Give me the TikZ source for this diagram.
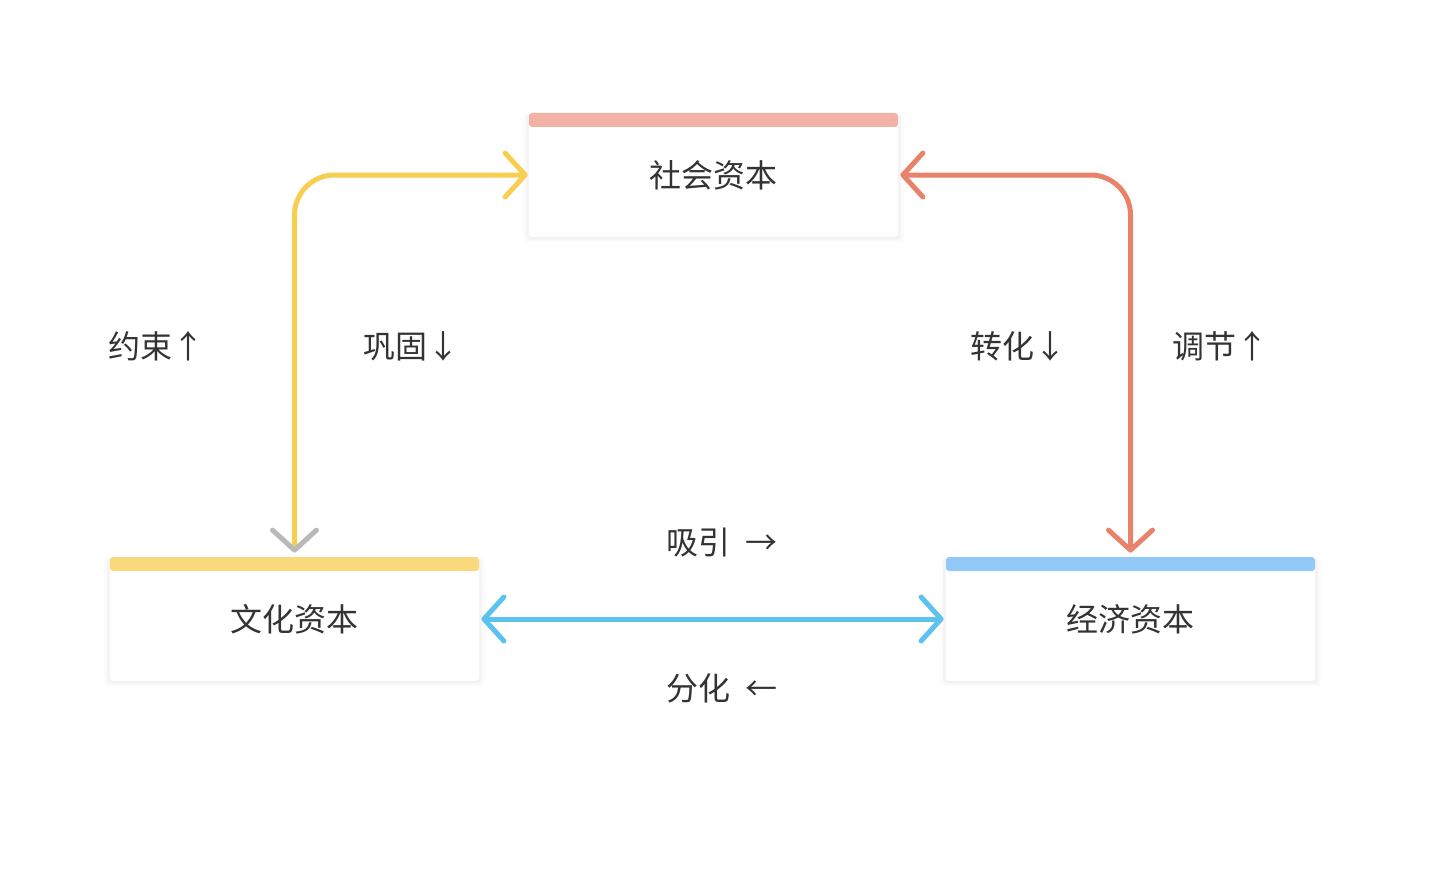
\documentclass[tikz,border=0pt]{standalone}
\usepackage{fontspec}
\setmainfont{Noto Sans CJK SC}
\usetikzlibrary{arrows.meta,shadows}
\definecolor{soctop}{HTML}{F2B3A6}
\definecolor{cultop}{HTML}{F9D97B}
\definecolor{ecotop}{HTML}{93C9F9}
\definecolor{ylw}{HTML}{F8CE50}
\definecolor{org}{HTML}{E9826A}
\definecolor{blu}{HTML}{5CC3F0}
\definecolor{txt}{HTML}{333333}
\tikzset{
  capbox/.style={rectangle, fill=white, rounded corners=1.5pt, inner sep=0pt,
    minimum width=184.5pt, minimum height=62pt, text=txt,
    font=\fontsize{16pt}{19pt}\selectfont,
    drop shadow={opacity=0.035, shadow xshift=0pt, shadow yshift=-1.5pt, shadow scale=1.03},
    drop shadow={opacity=0.05, shadow xshift=0pt, shadow yshift=-1pt, shadow scale=1.015},
    drop shadow={opacity=0.06, shadow xshift=0pt, shadow yshift=-0.6pt},
    path picture={\fill[#1] (path picture bounding box.north west) rectangle ([yshift=-7pt]path picture bounding box.north east);}},
  lbl/.style={text=txt, font=\fontsize{16pt}{19pt}\selectfont},
  lk/.style={line width=2.5pt, line cap=round, rounded corners=20pt}
}
\begin{document}
\begin{tikzpicture}[x=0.5pt, y=-0.5pt]
\useasboundingbox (0,0) rectangle (1434,872);
% boxes
\node[capbox=soctop] (soc) at (713.5,175) {社会资本};
\node[capbox=cultop] (cul) at (294.5,619) {文化资本};
\node[capbox=ecotop] (eco) at (1130.5,619) {经济资本};
% connectors
\draw[lk, ylw, {Straight Barb[length=10pt, width=22pt, line cap=round, line join=round, color=gray!55]}-{Straight Barb[length=10pt, width=22pt, line cap=round, line join=round]}] ([yshift=2pt]cul.north) |- ([xshift=-0.5pt]soc.west);
\draw[lk, org, {Straight Barb[length=10pt, width=22pt, line cap=round, line join=round]}-{Straight Barb[length=10pt, width=22pt, line cap=round, line join=round]}] ([xshift=1pt]soc.east) -| ([yshift=2pt]eco.north);
\draw[lk, blu, {Straight Barb[length=10pt, width=22pt, line cap=round, line join=round]}-{Straight Barb[length=10pt, width=22pt, line cap=round, line join=round]}] ([xshift=1pt]cul.east) -- ([xshift=-1pt]eco.west);
% labels
\node[lbl] (l1) at (156,346) {约束↑};
\node[lbl] (l2) at (411,346) {巩固↓};
\node[lbl] (l3) at (1018,346) {转化↓};
\node[lbl] (l4) at (1220,346) {调节↑};
\node[lbl] (l5) at (722,543) {吸引\ \ →};
\node[lbl] (l6) at (722,688) {分化\ \ ←};
\end{tikzpicture}
\end{document}
